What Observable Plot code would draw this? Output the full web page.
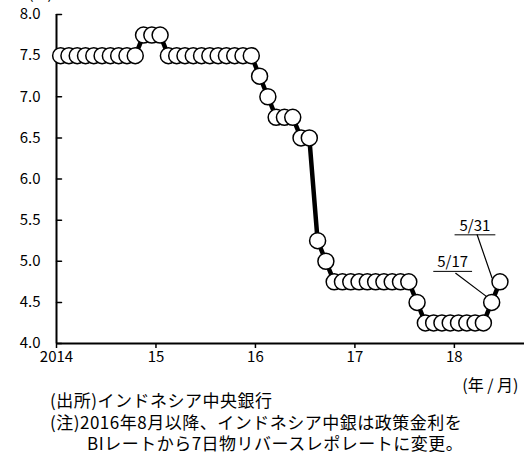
<!DOCTYPE html>
<html><head><meta charset="utf-8">
<script src="https://cdn.jsdelivr.net/npm/d3@7"></script>
<script src="https://cdn.jsdelivr.net/npm/@observablehq/plot@0.6"></script>
<style>
body{margin:0;background:#fff;font-family:"Noto Sans CJK JP",sans-serif;}
#cap{font-size:17px;letter-spacing:0.5px;line-height:21.5px;color:#000;margin-top:-9px;padding-left:50px;white-space:nowrap;}
#cap .ind{padding-left:37px;}
</style></head><body>
<div id="chart"></div>
<div id="cap">
<div>(出所)インドネシア中央銀行</div>
<div>(注)2016年8月以降、インドネシア中銀は政策金利を</div>
<div class="ind">BIレートから7日物リバースレポレートに変更。</div>
</div>
<script>
// Policy rate (%), monthly from 2014/01, then 2018/05/17 and 2018/05/31
const rates = [
  7.5,7.5,7.5,7.5,7.5,7.5,7.5,7.5,7.5,7.5,7.75,7.75,
  7.75,7.5,7.5,7.5,7.5,7.5,7.5,7.5,7.5,7.5,7.5,7.5,
  7.25,7.0,6.75,6.75,6.75,6.5,6.5,5.25,5.0,4.75,4.75,4.75,
  4.75,4.75,4.75,4.75,4.75,4.75,4.75,4.5,4.25,4.25,4.25,4.25,
  4.25,4.25,4.25,4.25,4.5,4.75
];
const periodLabels = [];
for (let y = 2014; y <= 2018; y++) for (let m = 1; m <= 12; m++) if (periodLabels.length < 52) periodLabels.push(`${y}/${m}`);
periodLabels.push("2018/5/17", "2018/5/31");
const xTicks = [2014, 2015, 2016, 2017, 2018];
const xTickLabels = ["2014", "15", "16", "17", "18"];
const yTicks = [4.0, 4.5, 5.0, 5.5, 6.0, 6.5, 7.0, 7.5, 8.0];
const noteLabels = ["5/17", "5/31"];
const noteIndex = [52, 53];

const data = rates.map((v, i) => ({period: periodLabels[i], t: 2014 + (i + 0.5) / 12, v}));
const notes = noteLabels.map((label, k) => ({label, t: data[noteIndex[k]].t, v: data[noteIndex[k]].v}));

const lineShape = {draw(ctx, l) { ctx.moveTo(0, 0); ctx.lineTo(0, -l); }};
const font = '"Noto Sans CJK JP", sans-serif';

const chart = Plot.plot({
  width: 524, height: 398,
  marginLeft: 56, marginRight: 0, marginTop: 14, marginBottom: 55,
  style: {fontFamily: font, fontSize: "15px", color: "#000", background: "#fff"},
  x: {domain: [2014, 2018.705], label: null},
  y: {domain: [4, 8], label: null},
  marks: [
    Plot.axisX({ticks: xTicks, tickSize: 5, tickPadding: 3, strokeWidth: 1.5, fontSize: 15,
      tickFormat: d => xTickLabels[xTicks.indexOf(d)]}),
    Plot.axisY({ticks: yTicks, tickSize: 0, tickPadding: 16, fontSize: 15, tickFormat: d3.format(".1f")}),
    Plot.vector(yTicks, {x: () => 2014, y: d => d, length: 5, rotate: 90, anchor: "start", shape: lineShape, stroke: "black", strokeWidth: 1.5}),
    Plot.ruleX([2014], {stroke: "black", strokeWidth: 2}),
    Plot.ruleY([4], {stroke: "black", strokeWidth: 2}),
    Plot.text(["(%)"], {frameAnchor: "top-left", dx: -16, dy: -16, lineAnchor: "bottom", textAnchor: "middle", fontSize: 15}),
    Plot.text(["(年 / 月)"], {frameAnchor: "bottom-right", dx: -6, dy: 42, lineAnchor: "middle", fontSize: 16}),
    Plot.line(data, {x: "t", y: "v", stroke: "black", strokeWidth: 4.5}),
    // leader lines
    Plot.vector([notes[0]], {x: "t", y: "v", dx: -4, dy: -5, length: 40, rotate: -53, anchor: "start", shape: lineShape, stroke: "black", strokeWidth: 1.2}),
    Plot.vector([notes[1]], {x: "t", y: "v", dx: -8, dy: -4, length: 45.5, rotate: -19, anchor: "start", shape: lineShape, stroke: "black", strokeWidth: 1.2}),
    Plot.dot(data, {x: "t", y: "v", r: 8, fill: "white", stroke: "black", strokeWidth: 1.5}),
    Plot.text([notes[0]], {x: "t", y: "v", text: "label", dx: -39, dy: -40, fontSize: 15}),
    Plot.text([notes[1]], {x: "t", y: "v", text: "label", dx: -25, dy: -56, fontSize: 15}),
    // underlines of the labels
    Plot.vector([notes[0]], {x: "t", y: "v", dx: -58, dy: -31, length: 38, rotate: 90, anchor: "start", shape: lineShape, stroke: "black", strokeWidth: 1}),
    Plot.vector([notes[1]], {x: "t", y: "v", dx: -45, dy: -47, length: 40, rotate: 90, anchor: "start", shape: lineShape, stroke: "black", strokeWidth: 1})
  ]
});
document.getElementById("chart").appendChild(chart);
</script>
</body></html>
